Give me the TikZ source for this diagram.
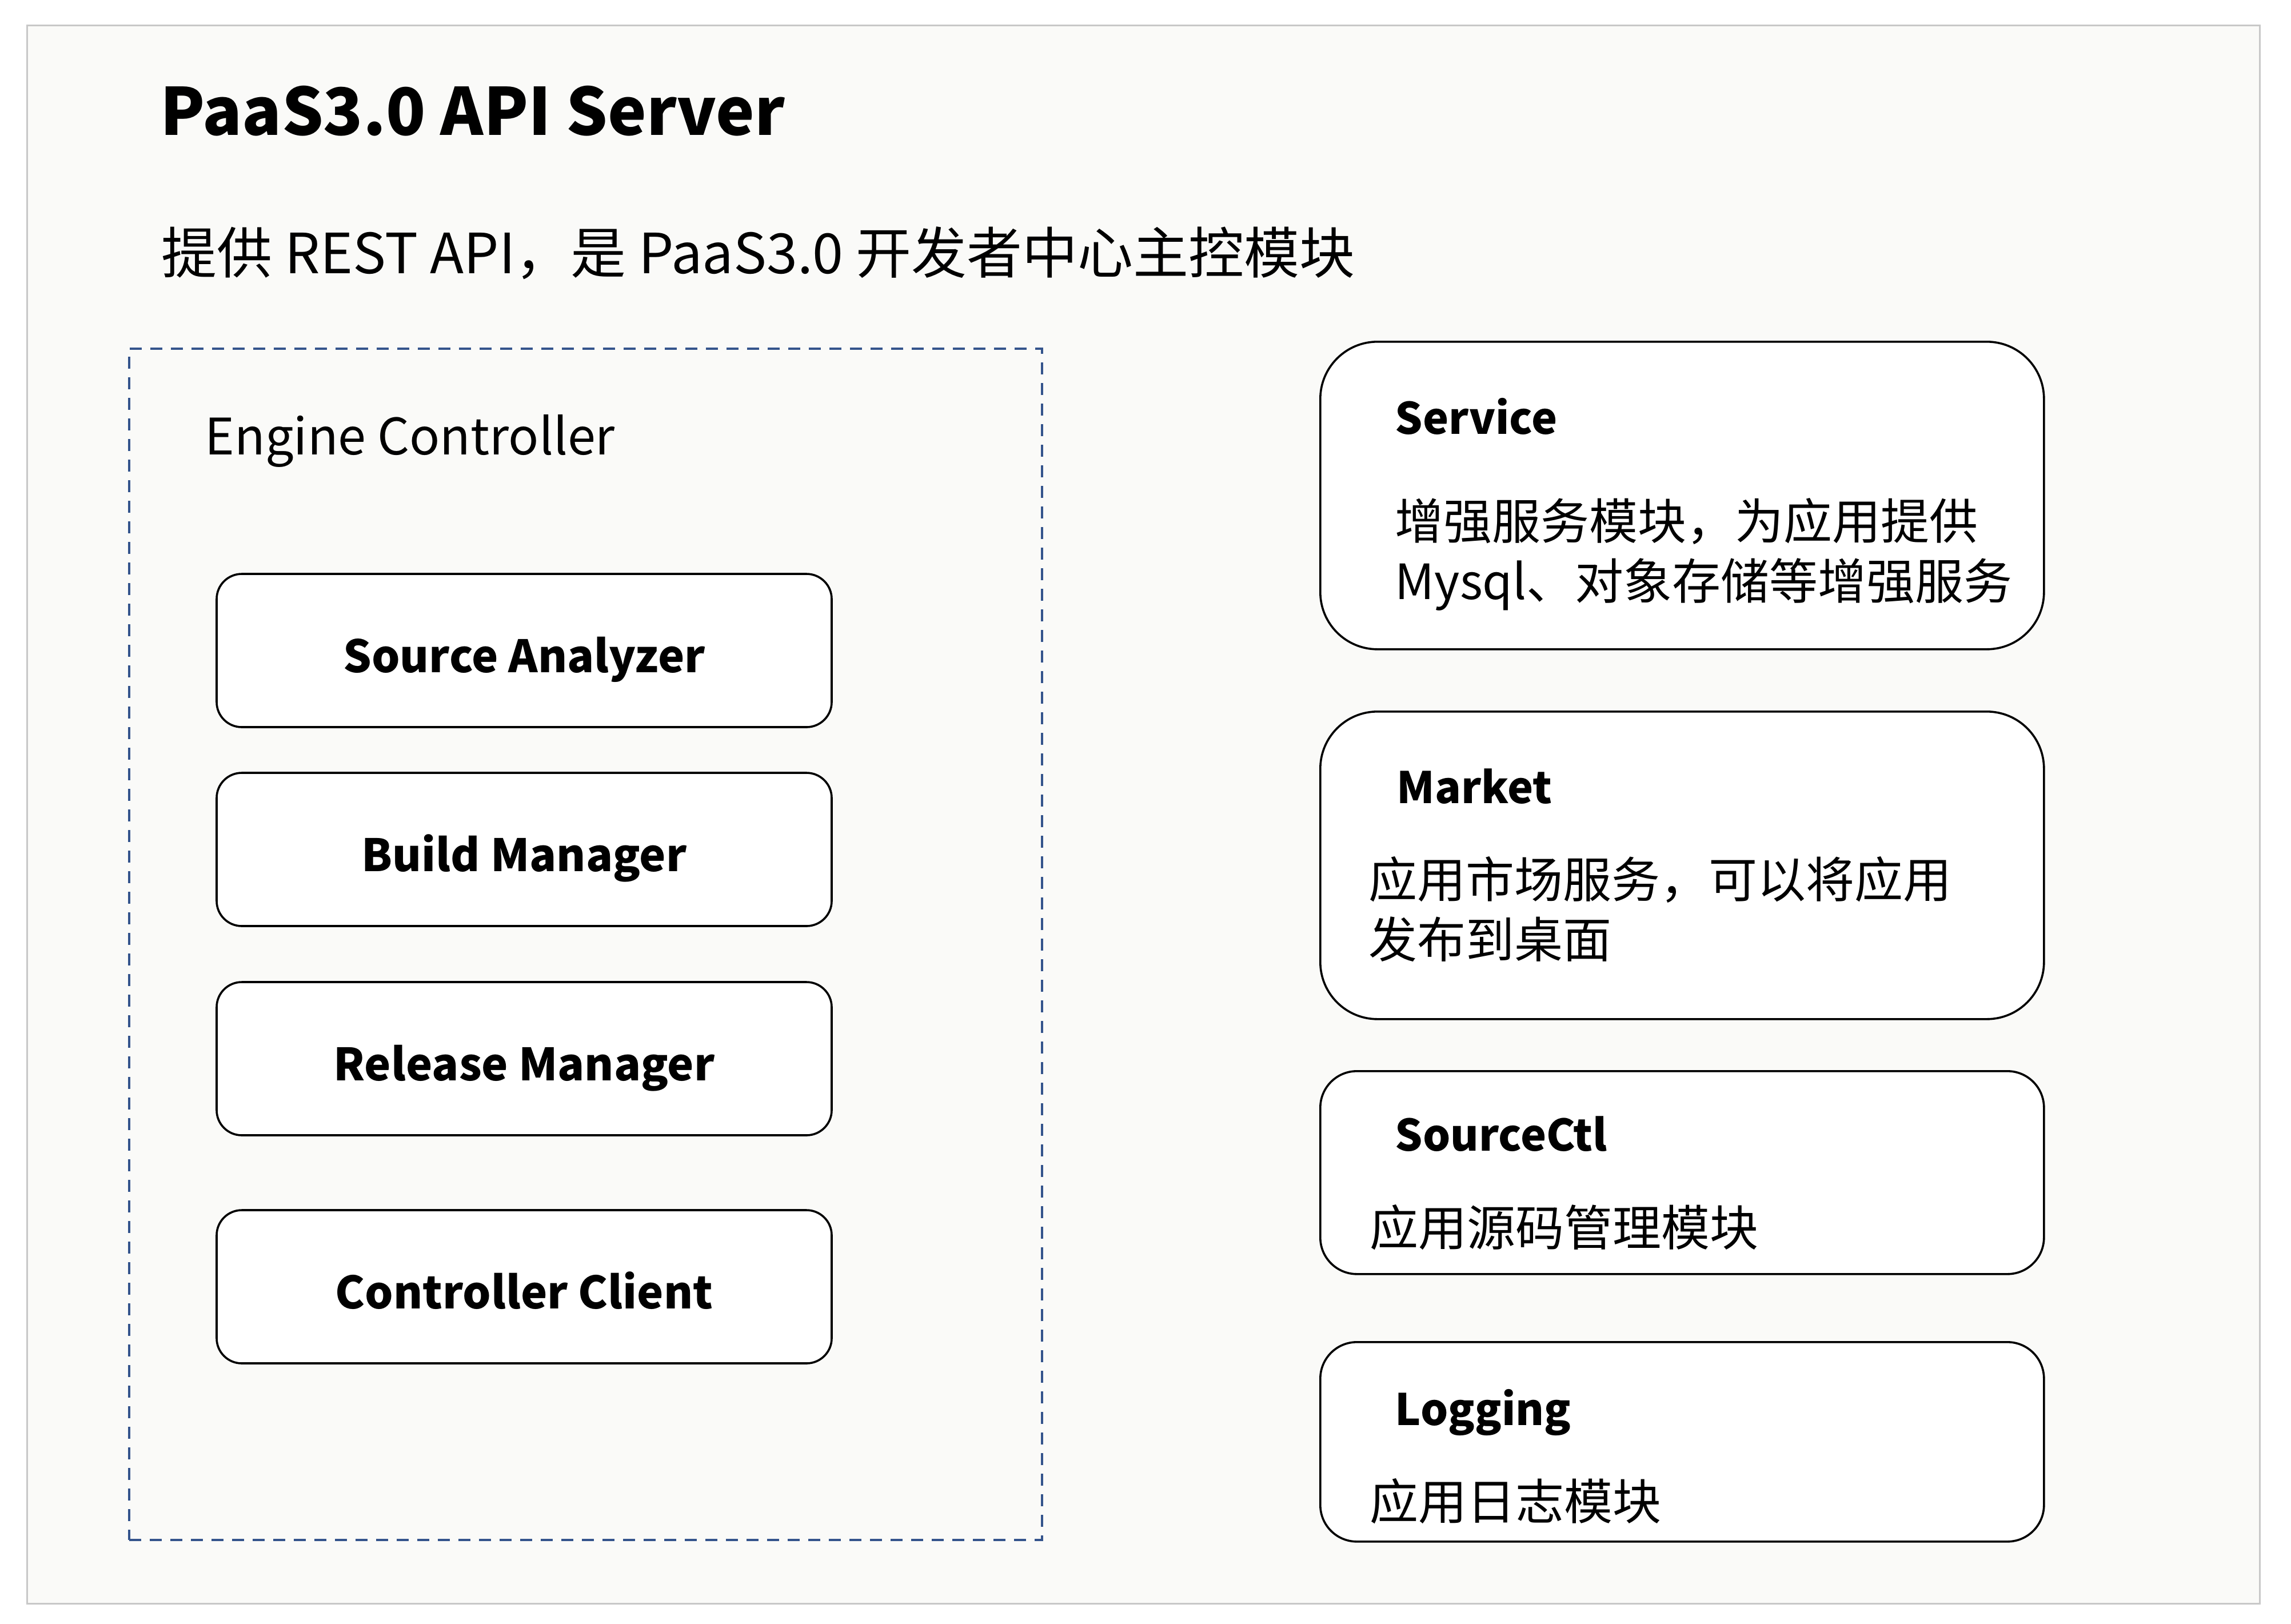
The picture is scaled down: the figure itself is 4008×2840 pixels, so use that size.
\documentclass[tikz,border=0pt]{standalone}
\usepackage{fontspec}
\setmainfont{Noto Sans CJK SC}
\definecolor{framegray}{RGB}{200,200,200}
\definecolor{bggray}{RGB}{250,250,248}
\definecolor{dashblue}{RGB}{52,84,140}
\begin{document}
\begin{tikzpicture}[x=0.25pt,y=-0.25pt,
  frame/.style={draw=framegray, line width=0.8pt, fill=bggray, rectangle, inner sep=0pt, anchor=north west},
  group/.style={draw=dashblue, line width=1pt, dash pattern=on 5.25pt off 3.75pt, rectangle, inner sep=0pt, anchor=north west},
  comp/.style={draw=black, line width=0.9pt, fill=white, rounded corners=11pt, minimum width=269pt, minimum height=67pt, inner sep=0pt, text height=19pt, text depth=0pt, font=\bfseries\fontsize{19.5}{23}\selectfont},
  svc/.style={draw=black, line width=0.9pt, fill=white, minimum width=316.5pt, inner sep=0pt, anchor=north west},
  hdr/.style={anchor=base west, inner sep=0pt, font=\bfseries\fontsize{19}{23}\selectfont},
  desc/.style={anchor=base west, inner sep=0pt, align=left, font=\fontsize{21.25}{26.25}\selectfont},
  title/.style={anchor=base west, inner sep=0pt, font=\bfseries\fontsize{28.5}{33}\selectfont},
  subtitle/.style={anchor=base west, inner sep=0pt, font=\fontsize{24.25}{28}\selectfont},
  grouplabel/.style={anchor=base west, inner sep=0pt, font=\fontsize{22}{26}\selectfont},
]
\useasboundingbox (0,0) rectangle (4008,2840);
\fill[white] (0,0) rectangle (4008,2840);

% outer frame
\node[frame, minimum width=976.5pt, minimum height=690.25pt] (server) at (46,43) {};
\node[title] (servertitle) at (280,236) {PaaS3.0 API Server};
\node[subtitle] (serverdesc) at (282,478) {提供 REST API，是 PaaS3.0 开发者中心主控模块};

% engine controller group
\node[group, minimum width=399.25pt, minimum height=521pt] (engine) at (224,608) {};
\node[grouplabel] (enginelabel) at (358,795) {Engine Controller};

\node[comp] (analyzer) at (917,1138) {Source Analyzer};
\node[comp] (build) at (917,1486) {Build Manager};
\node[comp] (release) at (917,1852) {Release Manager};
\node[comp] (client) at (917,2251) {Controller Client};

% right modules
\node[svc, minimum height=134.5pt, rounded corners=25pt] (service) at (2308,596) {};
\node[hdr] (servicehdr) at (2440,759) {Service};
\node[desc] (servicedesc) at (2440,1048) {增强服务模块，为应用提供\\Mysql、对象存储等增强服务};

\node[svc, minimum height=134.5pt, rounded corners=25pt] (market) at (2308,1243) {};
\node[hdr] (markethdr) at (2443,1405) {Market};
\node[desc] (marketdesc) at (2394,1675) {应用市场服务，可以将应用\\发布到桌面};

\node[svc, minimum height=88.75pt, rounded corners=16pt] (sourcectl) at (2308,1872) {};
\node[hdr] (sourcectlhdr) at (2440,2013) {SourceCtl};
\node[desc] (sourcectldesc) at (2396,2179) {应用源码管理模块};

\node[svc, minimum height=87.25pt, rounded corners=16pt] (logging) at (2308,2346) {};
\node[hdr] (logginghdr) at (2440,2493) {Logging};
\node[desc] (loggingdesc) at (2396,2658) {应用日志模块};
\end{tikzpicture}
\end{document}
